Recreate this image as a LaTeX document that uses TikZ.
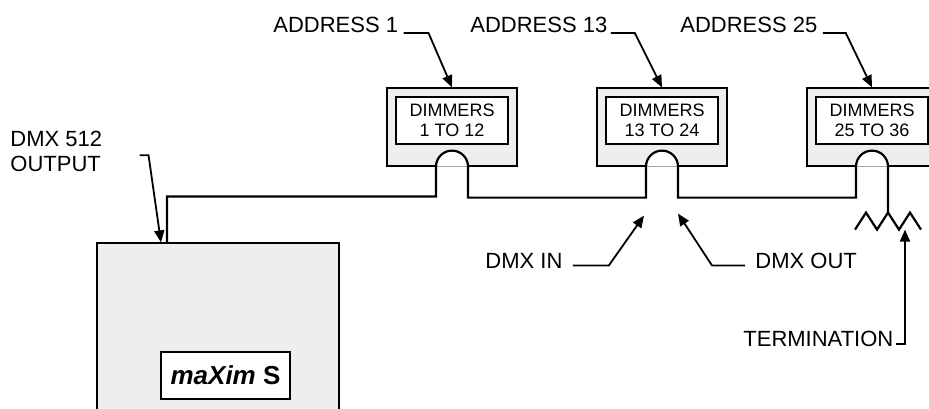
\documentclass[tikz,border=0pt]{standalone}
\usepackage{fontspec}
\setmainfont{Liberation Sans}
\usetikzlibrary{positioning, arrows.meta}

\begin{document}
\begin{tikzpicture}[x=0.5pt,y=-0.5pt,node distance=105pt,on grid,
  unit/.style={draw,line width=0.6pt,fill=gray!13,minimum width=65pt,minimum height=39pt,inner sep=0pt},
  label box/.style={draw,line width=1.3pt,fill=white,minimum width=56pt,minimum height=23.5pt,inner sep=0pt,align=center,font=\fontsize{9}{10}\selectfont},
  note/.style={inner sep=0pt,font=\fontsize{11}{12.5}\selectfont},
  pointer/.style={-{Triangle[length=6pt,width=5pt]},line width=0.9pt},
  cable/.style={line width=1.1pt}]
\useasboundingbox (0,0) rectangle (929,408);
\clip (0,0) rectangle (929,408);

% controller
\node[unit,minimum width=121pt,minimum height=93.5pt] (maxim) at (218,336.5) {};
\node[label box,minimum width=64.5pt,font=\fontsize{13}{15}\selectfont] (maximlab) at (225.5,375.5) {\textbf{\textit{maXim} S}};

% dimmer packs
\node[unit] (dim1) at (452,127) {};
\node[unit] (dim2) [right=of dim1] {};
\node[unit] (dim3) [right=of dim2] {};
\node[label box] (lab1) at ([yshift=3.25pt]dim1.center) {DIMMERS\\1 TO 12};
\node[label box] (lab2) at ([yshift=3.25pt]dim2.center) {DIMMERS\\13 TO 24};
\node[label box] (lab3) at ([yshift=3.25pt]dim3.center) {DIMMERS\\25 TO 36};

\foreach \d in {dim1,dim2,dim3}
  \fill[white] ([xshift=-8pt]\d.south) arc[start angle=180,end angle=0,radius=8pt] -- cycle;

% daisy chain
\coordinate (out) at ([xshift=-25.5pt]maxim.north);
\draw[cable] (out) -- ++(0,-46) -| ([xshift=-8pt]dim1.south)
  arc[start angle=180,end angle=0,radius=8pt] -- ++(0,31) -| ([xshift=-8pt]dim2.south)
  arc[start angle=180,end angle=0,radius=8pt] -- ++(0,31) -| ([xshift=-8pt]dim3.south)
  arc[start angle=180,end angle=0,radius=8pt] -- ++(0,46) coordinate (rtop);
\draw[cable] ([shift={(-33,17)}]rtop) -- ++(11,-17) -- ++(11,17) -- ++(11,-17)
  -- ++(11,17) -- ++(11,-17) -- ++(11,17);

% labels
\node[note,anchor=base west] (adr1) at (273,32) {ADDRESS 1};
\node[note,anchor=base west] (adr13) at (470,32) {ADDRESS 13};
\node[note,anchor=base west] (adr25) at (680,32) {ADDRESS 25};
\node[note,anchor=north west,align=left] (dmxport) at (10,131) {DMX 512\\OUTPUT};
\node[note,anchor=base west] (dmxin) at (485,268) {DMX IN};
\node[note,anchor=base west] (dmxoutlbl) at (755,268) {DMX OUT};
\node[note,anchor=base west] (term) at (743,346) {TERMINATION};

\coordinate (porttip) at ([xshift=-28.5pt]maxim.north);
\coordinate (intip) at ([shift={(-18,49)}]dim2.south);
\coordinate (outtip) at ([shift={(16,47)}]dim2.south);
\coordinate (termtip) at ([shift={(17,17)}]rtop);

\draw[pointer] ([shift={(5,1)}]adr1.base east) -- ++(25,0) -- (dim1.north);
\draw[pointer] ([shift={(3,1)}]adr13.base east) -- ++(24,0) -- (dim2.north);
\draw[pointer] ([shift={(5,1)}]adr25.base east) -- ++(23,0) -- (dim3.north);
\draw[pointer] ([shift={(37,3.5)}]dmxport.east) -- ++(9,0) -- (porttip);
\draw[pointer] ([shift={(10,-2.5)}]dmxin.base east) -- ++(36,0) -- (intip);
\draw[pointer] ([shift={(-10,-2.5)}]dmxoutlbl.base west) -- ++(-33,0) -- (outtip);
\draw[pointer] ([shift={(2,-2)}]term.base east) -| (termtip);
\end{tikzpicture}
\end{document}
